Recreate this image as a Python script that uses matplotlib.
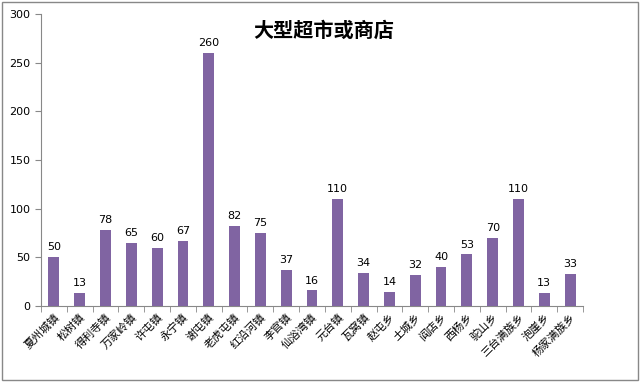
import matplotlib
matplotlib.use("Agg")
import matplotlib.pyplot as plt
from matplotlib.patches import Rectangle
import numpy as np

plt.rcParams['font.family'] = ['Noto Sans CJK SC', 'DejaVu Sans']

categories = ['夏州城镇', '松树镇', '得利寺镇', '万家岭镇', '许屯镇', '永宁镇', '谢屯镇',
              '老虎屯镇', '红沿河镇', '李官镇', '仙浴湾镇', '元台镇', '瓦窝镇', '赵屯乡',
              '土城乡', '阎店乡', '西杨乡', '驼山乡', '三台满族乡', '泡崖乡', '杨家满族乡']
values = [50, 13, 78, 65, 60, 67, 260, 82, 75, 37, 16, 110, 34, 14, 32, 40, 53, 70, 110, 13, 33]
title = '大型超市或商店'

fig = plt.figure(figsize=(6.4, 3.82), dpi=100)
ax = fig.add_axes([0.064, 0.199, 0.847, 0.764])
x = np.arange(len(categories))
bars = ax.bar(x, values, width=0.42, color='#8064A2', zorder=3)
for xi, v in zip(x, values):
    ax.text(xi, v + 5, str(v), ha='center', va='bottom', fontsize=8,
            family=['DejaVu Sans'], color='#000000')

ax.set_xlim(-0.5, len(categories) - 0.5)
ax.set_ylim(0, 300)
ax.set_yticks(range(0, 301, 50))
ax.tick_params(axis='y', labelsize=8, length=4, color='#888888', direction='out')
for lab in ax.get_yticklabels():
    lab.set_family(['DejaVu Sans'])
ax.set_xticks(x)
ax.set_xticklabels(categories, rotation=45, ha='right', rotation_mode='anchor', fontsize=8)
ax.tick_params(axis='x', length=0, pad=4)
ax.set_xticks(np.arange(-0.5, len(categories), 1), minor=True)
ax.tick_params(axis='x', which='minor', length=4, color='#888888', direction='out')
for s in ['top', 'right']:
    ax.spines[s].set_visible(False)
for s in ['left', 'bottom']:
    ax.spines[s].set_color('#888888')

fig.text(0.505, 0.922, title, ha='center', va='center', fontsize=14.5, fontweight='bold')
fig.patches.append(Rectangle((0.003, 0.004), 0.994, 0.992, transform=fig.transFigure,
                             fill=False, edgecolor='#888888', linewidth=1))
fig.savefig('out.png', dpi=100)
